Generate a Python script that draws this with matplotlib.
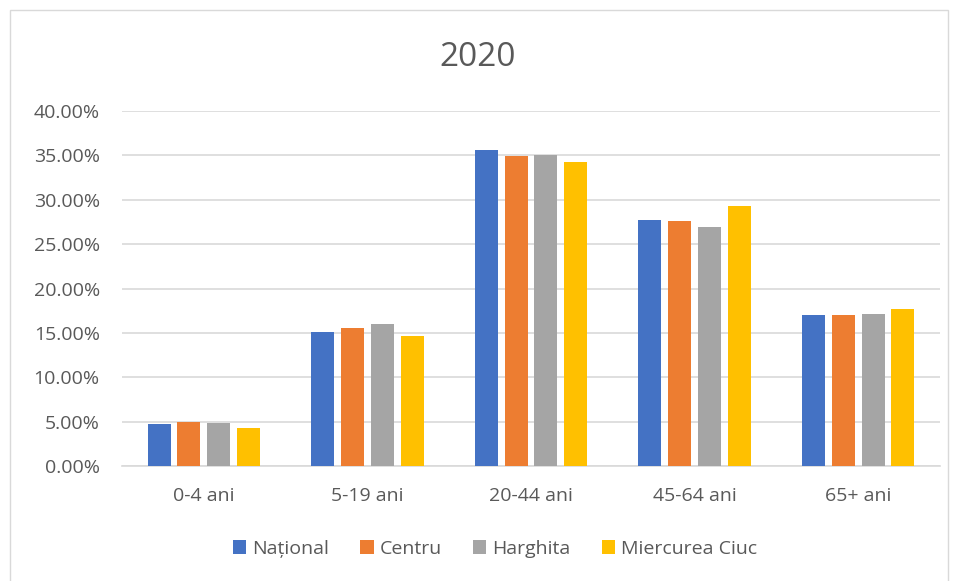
import matplotlib.pyplot as plt
import numpy as np
from matplotlib.patches import Rectangle
from matplotlib.ticker import FuncFormatter

categorii = ["0-4 ani", "5-19 ani", "20-44 ani", "45-64 ani", "65+ ani"]
serii = ["Național", "Centru", "Harghita", "Miercurea Ciuc"]
national = [4.70, 15.07, 35.57, 27.68, 16.98]
centru = [4.93, 15.60, 34.96, 27.60, 17.00]
harghita = [4.88, 16.05, 35.08, 26.96, 17.13]
miercurea = [4.28, 14.62, 34.20, 29.30, 17.69]
culori = ["#4472C4", "#ED7D31", "#A5A5A5", "#FFC000"]

plt.rcParams['font.family'] = ['Open Sans', 'DejaVu Sans']

fig = plt.figure(figsize=(9.56, 5.81), dpi=100)
ax = fig.add_axes([122/956, 115/581, 818/956, 355/581])

x = np.arange(len(categorii))
latime = 0.14
pas = 0.182
for i, (nume, valori) in enumerate(zip(serii, [national, centru, harghita, miercurea])):
    ax.bar(x + (i - 1.5) * pas, valori, width=latime, color=culori[i], label=nume, zorder=3)

ax.set_xlim(-0.5, 4.5)
ax.set_ylim(0, 40)
ax.set_yticks(np.arange(0, 41, 5))
ax.yaxis.set_major_formatter(FuncFormatter(lambda v, p: f"{v:.2f}%"))
ax.set_xticks(x)
ax.set_xticklabels(categorii)
ax.grid(axis='y', color='#d9d9d9', linewidth=1.2, zorder=0)
for s in ['top', 'right', 'left']:
    ax.spines[s].set_visible(False)
ax.spines['bottom'].set_color('#d9d9d9')
ax.spines['bottom'].set_linewidth(1.2)
ax.tick_params(length=0, labelsize=14, colors='#595959')
ax.tick_params(axis='x', pad=15)
ax.tick_params(axis='y', pad=16)

fig.text(0.5, 1 - 57/581, "2020", ha='center', va='center', fontsize=24, color='#595959')

fig.legend(loc='center', bbox_to_anchor=(495/956, 1 - 549/581), ncol=4, frameon=False,
           fontsize=14, labelcolor='#595959', handlelength=0.7, handleheight=0.7,
           handletextpad=0.3, columnspacing=1.6)

fig.patches.append(Rectangle((10/956, -0.01), 938/956, 1 - 10/581 + 0.01, transform=fig.transFigure,
                             fill=False, edgecolor='#d9d9d9', linewidth=1))

fig.savefig("out.png", dpi=100)
